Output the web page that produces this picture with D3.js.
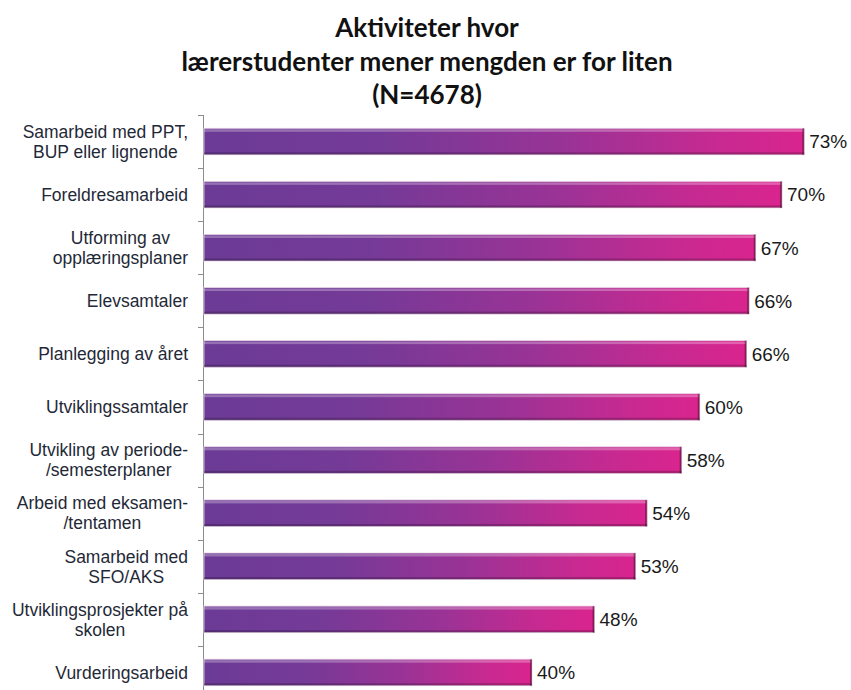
<!DOCTYPE html>
<html><head><meta charset="utf-8">
<script src="https://cdn.jsdelivr.net/npm/d3@7"></script>
<style>body{margin:0;background:#fff}</style>
</head><body>
<svg id="c" width="851" height="690"></svg>
<script>
const titleLines = ["Aktiviteter hvor", "lærerstudenter mener mengden er for liten", "(N=4678)"];
const categories = [
  "Samarbeid med PPT,\nBUP eller lignende",
  "Foreldresamarbeid",
  "Utforming av\nopplæringsplaner",
  "Elevsamtaler",
  "Planlegging av året",
  "Utviklingssamtaler",
  "Utvikling av periode-\n/semesterplaner",
  "Arbeid med eksamen-\n/tentamen",
  "Samarbeid med\nSFO/AKS",
  "Utviklingsprosjekter på\nskolen",
  "Vurderingsarbeid"
];
const values = [73.1, 70.4, 67.2, 66.4, 66.1, 60.4, 58.2, 54.0, 52.6, 47.6, 40.0];

const svg = d3.select("#c");
const axisX = 203;
const x = d3.scaleLinear().domain([0, 100]).range([axisX, axisX + 822.5]);
const y = d3.scaleBand().domain(categories).range([115, 699]).paddingInner(0.5).paddingOuter(0.25);

// title
const title = svg.append("text").attr("text-anchor", "middle")
  .attr("font-family", "Lato, 'Open Sans', sans-serif").attr("font-weight", "bold")
  .attr("font-size", 26).attr("fill", "#111");
titleLines.forEach((t, i) => title.append("tspan").attr("x", 427).attr("y", 37 + i * 33.5).text(t));

// gradient
const defs = svg.append("defs");
const g = defs.append("linearGradient").attr("id", "barGrad").attr("x1", 0).attr("x2", 1).attr("y1", 0).attr("y2", 0);
[[0, "#6b3b96"], [0.3, "#753a97"], [0.6, "#993396"], [0.85, "#c62a91"], [1, "#da248e"]]
  .forEach(([o, c]) => g.append("stop").attr("offset", o).attr("stop-color", c));

// axis line and ticks
const step = y.step();
const gap = (step - y.bandwidth()) / 2;
svg.append("line").attr("x1", axisX + 0.5).attr("x2", axisX + 0.5).attr("y1", 115).attr("y2", 699)
  .attr("stroke", "#8c8c8c").attr("stroke-width", 1);
const bounds = categories.map(c => y(c) - gap).concat([y(categories[categories.length - 1]) + y.bandwidth() + gap]);
svg.selectAll(".tk").data(bounds).join("line").attr("class", "tk")
  .attr("x1", axisX - 5).attr("x2", axisX).attr("y1", d => Math.round(d) + 0.5).attr("y2", d => Math.round(d) + 0.5)
  .attr("stroke", "#8c8c8c");

// bars
const bars = svg.selectAll(".bar").data(categories.map((c, i) => ({c, v: values[i]}))).join("g").attr("class", "bar");
bars.append("rect").attr("x", axisX + 1).attr("y", d => y(d.c)).attr("width", d => x(d.v) - axisX - 1)
  .attr("height", y.bandwidth()).attr("fill", "url(#barGrad)").attr("stroke", "#e8d4e6").attr("stroke-width", 0.8);
bars.append("rect").attr("x", axisX + 1).attr("y", d => y(d.c) + 1).attr("width", d => x(d.v) - axisX - 2)
  .attr("height", 2.5).attr("fill", "#ffffff").attr("opacity", 0.28);
bars.append("rect").attr("x", axisX + 1).attr("y", d => y(d.c) + y.bandwidth() - 2.5).attr("width", d => x(d.v) - axisX - 1)
  .attr("height", 2.5).attr("fill", "#000").attr("opacity", 0.22);
bars.append("rect").attr("x", d => x(d.v) - 2).attr("y", d => y(d.c)).attr("width", 2)
  .attr("height", y.bandwidth()).attr("fill", "#000").attr("opacity", 0.35);

// value labels
svg.selectAll(".val").data(categories.map((c, i) => ({c, v: values[i]}))).join("text").attr("class", "val")
  .attr("x", d => x(d.v) + 5).attr("y", d => y(d.c) + y.bandwidth() / 2).attr("dy", "0.36em")
  .attr("font-family", "'Liberation Sans', Arial, sans-serif").attr("font-size", 19).attr("fill", "#1a1a1a")
  .text(d => Math.round(d.v) + "%");

// category labels: block right-aligned, lines centred
const rightEdge = 188;
categories.forEach(c => {
  const lines = c.split("\n");
  const t = svg.append("text").attr("text-anchor", "middle")
    .attr("font-family", "'Liberation Sans', Arial, sans-serif").attr("font-size", 17.5).attr("fill", "#1f2937");
  const cy = y(c) + y.bandwidth() / 2;
  const lh = 20;
  const spans = lines.map((l, i) => t.append("tspan").attr("y", cy + (i - (lines.length - 1) / 2) * lh).attr("dy", "0.36em").text(l));
  const w = d3.max(spans, s => s.node().getComputedTextLength());
  spans.forEach(s => s.attr("x", rightEdge - w / 2));
});
</script>
</body></html>
